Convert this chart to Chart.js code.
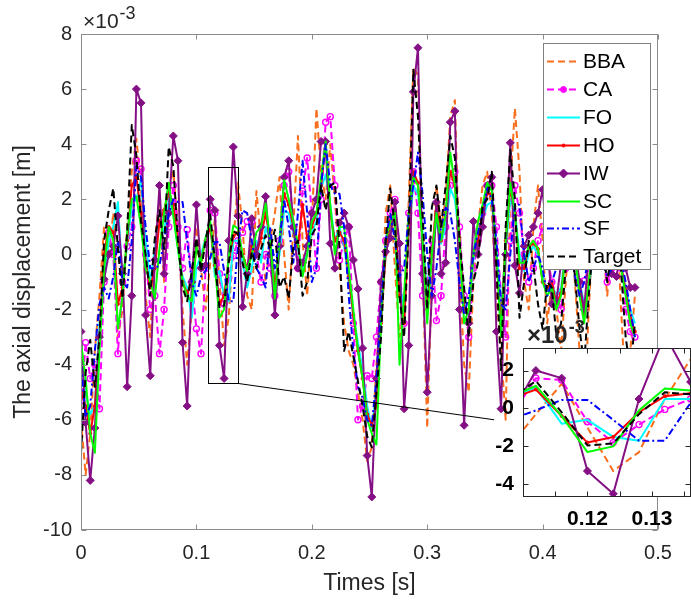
<!DOCTYPE html>
<html>
<head>
<meta charset="utf-8">
<script src="https://cdn.jsdelivr.net/npm/chart.js@4.4.1/dist/chart.umd.min.js"></script>
<style>
  html, body { margin: 0; padding: 0; background: #fff; overflow: hidden; }
  #wrap { position: relative; width: 691px; height: 601px; overflow: hidden; }
  #mainChart { position: absolute; left: 0; top: 0; }
  #zoomChart { position: absolute; left: 470px; top: 320px; }
</style>
</head>
<body>
<div id="wrap">
  <canvas id="mainChart" width="691" height="601"></canvas>
  <canvas id="zoomChart" width="226" height="220"></canvas>
</div>
<script>
// sample grid (s) and displacement values (x 1e-3 m)
const sampleStep = 0.004;
const times = Array.from({length: 121}, (_, i) => +(i * sampleStep).toFixed(3));

const bba = [
  -6.0, -8.0, -6.5, -3.5, -1.5, 1.0, 0.0, 1.5, -3.0, -2.0,
  1.0, 3.0, 4.2, 2.5, -1.5, -3.0, 0.5, 2.0, -1.0, 2.5,
  3.0, 1.0, -2.0, -4.0, -2.0, 1.0, -0.5, -2.0, -0.3, 1.3,
  -1.0, -3.3, -2.3, 0.5, 2.6, 1.0, -1.5, -2.0, 2.3, 0.5,
  -1.0, 0.5, 1.5, 2.8, 0.0, -2.0, 1.0, 4.3, 0.5, -1.5,
  1.0, 5.3, 3.0, 2.0, 4.0, 2.0, -0.5, -2.5, -3.5, -4.0,
  -5.0, -6.0, -7.5, -7.0, -4.0, -2.0, 1.5, 2.5, -0.5, -3.0,
  -2.0, 2.0, 6.8, 6.5, -0.5, -6.3, -1.0, 2.5, 1.0, 2.0,
  5.0, 5.6, -0.5, -4.0, -5.0, -1.0, 1.0, 2.5, 3.0, 1.5,
  -1.5, -3.5, -6.0, 2.5, 5.3, 3.0, -1.0, -2.0, 1.0, 2.5,
  0.5, -2.5, -1.0, -2.0, -3.5, -1.0, 1.0, -1.0, -3.5, -6.0,
  -2.0, 1.0, 2.0, 0.5, -1.5, 0.5, 1.5, -2.0, -5.0, -3.5, -1.5
];
const ca = [
  -5.5, -3.2, -4.5, -4.0, -5.6, -1.0, 0.8, 0.0, -3.6, -1.0,
  0.3, 1.0, 3.4, 3.1, 0.0, -2.0, -1.5, -3.6, -2.0, 1.0,
  2.5, 1.0, -0.5, 0.9, -1.0, -2.7, -3.6, -0.5, 1.6, 1.5,
  -0.7, -1.8, -0.85, -0.05, 0.5, 0.8, 1.2, 1.2, 0.0, -1.0,
  0.0, -0.5, -1.5, 0.5, 2.5, 3.0, 1.0, -0.5, 2.3, 3.5,
  1.5, -0.5, 2.0, 4.8, 5.0, 2.5, -0.2, 0.5, 1.0, -2.5,
  -6.0, -5.5, -4.4, -4.5, -3.0, -1.0, 0.5, 1.5, 2.0, -0.5,
  -2.5, 1.5, 3.0, 1.5, -1.5, -1.0, 0.5, -2.4, -1.5, 1.0,
  2.5, 3.0, 1.0, -1.5, -3.0, -0.5, 0.5, 1.5, 2.5, 2.5,
  1.0, -1.5, -3.0, 0.5, 2.5, 1.5, 0.0, -1.0, -0.5, 0.5,
  1.0, 0.0, -1.0, -1.5, -2.0, -0.5, 1.0, 0.0, -1.0, -0.96,
  -0.5, 0.5, 1.0, 0.0, -1.0, -0.5, 0.5, -0.5, -2.0, -2.8, -3.0
];
const fo = [
  -3.8, -5.0, -5.8, -5.5, -2.5, -1.0, 0.5, 1.0, 1.9, -1.0,
  0.3, 1.8, 2.0, 2.7, 0.5, -1.0, 0.2, 1.2, 0.8, 2.0,
  1.5, 0.2, -0.8, -1.2, -2.3, -0.5, 0.0, 0.6, 1.1, -0.8,
  -0.6, -1.5, -1.7, 0.5, 0.5, -0.3, -1.2, -0.5, 0.5, -0.3,
  1.0, 0.5, -1.0, 0.0, 1.6, 1.5, 0.8, 0.2, -0.5, 0.2,
  0.8, 1.2, 2.4, 2.9, 1.8, 0.5, 1.0, 0.3, -1.0, -2.2,
  -3.2, -4.2, -5.5, -6.3, -5.0, -2.0, 0.0, 1.0, 1.2, -1.0,
  -2.0, 0.8, 2.5, 2.2, 0.8, -1.5, 0.0, 1.2, 0.4, 1.0,
  2.4, 2.0, 0.5, -1.8, -2.2, -0.2, 0.6, 1.3, 1.8, 1.9,
  0.2, -2.0, 0.2, 2.0, 1.6, 0.0, -0.6, 0.0, 0.3, 0.0,
  -0.8, -1.3, -1.1, -1.5, -1.2, 0.2, 0.5, -0.2, -1.0, -1.8,
  -1.2, 0.0, 0.8, 0.3, -0.3, 0.2, 0.3, -0.4, -1.2, -2.0, -2.5
];
const ho = [
  -5.0, -5.5, -6.5, -5.5, -3.0, 0.0, 1.0, 0.8, -1.8, -1.2,
  0.5, 2.5, 2.8, 1.5, -0.3, -1.2, -0.5, 1.2, 1.6, 2.3,
  1.8, 0.4, -1.0, -1.4, -1.0, 0.2, -0.2, 0.5, 1.0, -0.4,
  -1.8, -1.5, -0.2, 0.65, 0.8, 0.0, -0.5, 0.3, 0.0, 0.6,
  1.5, 0.5, -1.2, 0.3, 2.2, 1.8, 1.0, 0.3, 1.8, 0.6,
  1.0, 1.5, 2.5, 4.0, 1.5, 0.5, 0.8, 0.5, -0.8, -2.2,
  -3.5, -4.5, -5.8, -6.2, -5.5, -2.5, 0.0, 1.2, 1.6, -1.5,
  -2.5, 1.0, 3.0, 2.6, 0.5, -2.0, 0.0, 1.8, 0.5, 1.5,
  3.0, 2.5, 0.6, -2.0, -2.0, 0.0, 0.5, 1.5, 2.2, 2.2,
  -0.2, -2.5, 0.5, 2.4, 1.5, -0.5, -0.5, 0.3, 0.4, 0.2,
  -1.0, -1.2, -1.0, -1.8, -1.4, 0.0, 0.7, 0.0, -1.2, -2.2,
  -1.0, 0.3, 0.9, 0.4, -0.4, 0.0, 0.4, -0.4, -1.3, -2.3, -2.8
];
const iw = [
  -2.8, -6.1, -8.2, -6.3, -3.0, -0.9, 0.0, 0.3, 1.4, -0.7,
  -4.8, -1.5, 6.0, 5.5, -2.2, -4.4, -0.2, 2.5, -0.7, 1.5,
  4.3, 3.4, -3.2, -5.5, -1.0, 1.8, -0.5, -0.4, 2.0, 1.6,
  -3.3, -4.5, 0.5, 3.9, 1.4, -1.9, -0.7, 1.3, 0.0, 1.0,
  2.1, 0.0, -2.2, 0.3, 2.8, 3.4, 1.0, -0.5, -0.3, 0.3,
  1.5, 2.0, 4.1, 4.1, 0.4, -0.5, 1.15, 1.5, 1.0, -0.2,
  -1.25, -3.4, -7.3, -8.8, -4.5, -1.0, 0.1, 0.6, 1.9, 0.4,
  -5.6, -3.3, 5.9, 7.5, -0.7, -5.0, -1.5, 1.9, -0.7, -0.3,
  4.8, 5.2, -2.0, -6.2, -2.5, 1.2, 0.0, 1.0, 2.5, 2.8,
  -2.8, -5.6, 0.0, 4.05, -0.4, -1.4, 0.3, 0.7, 1.0, 1.5,
  2.35, 0.5, -1.8, -1.7, -0.3, 0.5, 1.2, 0.3, -1.0, -2.0,
  0.0, 1.2, 1.5, 0.6, -0.2, -0.7, -0.8, 0.2, -0.5, -1.2, -1.2
];
const sc = [
  -3.2, -4.5, -6.5, -7.2, -3.5, -0.5, 1.0, 0.5, -2.7, -1.5,
  0.8, 2.0, 2.1, 1.0, -0.5, -1.0, -1.6, 0.2, 1.5, 2.6,
  1.4, 0.2, -1.0, -1.5, -1.7, 0.3, -0.3, 0.6, 1.2, -0.4,
  -2.3, -2.0, -0.1, 1.05, 0.95, 0.0, -0.6, 0.0, 0.8, 1.0,
  1.85, 0.5, -1.6, 0.5, 2.7, 2.0, 1.2, 0.4, -0.8, 0.0,
  1.2, 1.5, 2.8, 4.1, 1.8, 0.0, 1.0, 1.0, -0.5, -2.0,
  -3.5, -4.5, -6.0, -6.5, -6.9, -2.5, 0.5, 1.2, 1.5, -4.0,
  -1.5, 1.5, 2.8, 2.5, 0.5, -2.5, 0.0, 1.5, 0.5, 1.5,
  3.7, 2.5, 0.5, -2.5, -2.0, 0.0, 1.2, 1.8, 2.6, 2.3,
  0.0, -3.0, 0.5, 2.6, 1.5, -0.3, -0.3, 0.3, 0.5, 0.2,
  -1.0, -1.5, -1.2, -2.0, -1.5, 0.0, 0.8, 0.0, -1.5, -2.5,
  -1.0, 0.5, 1.0, 0.5, -0.5, 0.0, 0.5, -0.5, -1.5, -2.5, -3.0
];
const sf = [
  -4.0, -5.9, -5.5, -3.5, -1.8, -1.2, -1.6, -0.8, 0.5, -1.0,
  -1.2, 0.5, 3.2, 2.8, 1.0, -0.5, -0.5, -0.4, 0.5, 1.5,
  2.0, 1.9, 1.9, 0.5, -1.0, -1.5, -0.8, -0.6, -0.1, 0.45,
  0.45, -0.6, -1.7, -1.7, 0.3, 1.6, 1.5, 0.5, -0.5, -0.8,
  -1.2, 1.0, -0.5, 0.5, 2.0, 1.0, -0.3, 1.5, 3.4, 1.5,
  -1.0, -0.5, 2.5, 4.0, 2.5, 2.2, 2.2, 1.0, -1.5, -3.5,
  -4.8, -5.2, -6.0, -6.2, -4.5, -2.0, 0.5, 1.5, 0.5, -0.8,
  -0.5, 1.5, 2.5, 3.7, 2.2, 0.0, -1.5, -0.5, 1.0, 1.7,
  1.5, 0.5, -1.0, -2.2, -1.5, 0.0, 0.8, 1.5, 2.4, 2.0,
  0.5, -1.8, -2.0, 0.0, 1.8, 1.8, 0.0, -1.0, -0.5, 0.0,
  -0.5, -1.5, -1.0, -0.5, 0.0, 0.5, 0.3, -0.8, -1.5, -1.0,
  0.0, 0.8, 0.5, -0.3, -0.8, -0.5, 0.3, -0.2, -1.0, -2.0, -3.0
];
const target = [
  -7.2, -4.3, -3.1, -4.8, -3.0, 0.5, 1.6, 2.4, 0.2, -1.6,
  0.8, 4.7, 3.6, 1.2, 0.0, -1.5, 0.6, 1.6, 0.2, 3.9,
  3.2, 0.5, -1.2, -1.7, -0.6, 0.6, -0.6, 0.5, 1.45, -0.2,
  -1.95, -1.85, -0.3, 0.85, 0.75, -0.3, -1.0, 0.1, -0.5, 0.2,
  0.7, 0.2, 0.9, -1.2, -0.8, -1.6, 0.3, 0.5, -1.5, -1.0,
  0.7, 1.0, 2.5, 1.6, 2.5, 2.6, 0.3, -3.5, -2.8, -3.7,
  -4.6, -5.5, -6.6, -7.0, -5.0, -3.0, 0.5, 2.4, 1.0, -1.5,
  -3.0, 1.0, 6.7, 5.0, 1.5, -2.0, 1.7, 2.5, 1.0, 2.5,
  4.3, 3.5, 0.5, -1.2, -3.0, -1.0, -0.3, 1.8, 2.0, 3.0,
  -0.5, -4.2, 1.0, 3.8, 2.0, -2.3, -1.0, 0.5, -0.4, -1.8,
  -2.7, -1.0, -1.2, -3.0, -2.5, -0.5, 1.0, -0.8, -2.7, -4.0,
  -1.5, 0.5, 1.2, 0.3, -1.0, 0.2, 1.0, -0.6, -3.0, -4.2, -2.5
];

const seriesNames = ['BBA', 'CA', 'FO', 'HO', 'IW', 'SC', 'SF', 'Target'];
const seriesValues = {BBA: bba, CA: ca, FO: fo, HO: ho, IW: iw, SC: sc, SF: sf, Target: target};

const xTickValues = [0, 0.1, 0.2, 0.3, 0.4, 0.5];
const yTickValues = [-10, -8, -6, -4, -2, 0, 2, 4, 6, 8];
const zoomX = [0.11, 0.136];
const zoomY = [-4.67, 3.19];
const zoomXTickValues = [0.115, 0.12, 0.125, 0.13, 0.135];
const zoomXTickLabels = ['', '0.12', '', '0.13', ''];
const zoomYTickValues = [-4, -2, 0, 2];
const connectorEnd = [0.358, -6.0];

const lineStyles = {
  BBA:    {color: '#fa6e1e', dash: [7, 4]},
  CA:     {color: '#ff00ff', dash: [7, 4], marker: 'circle', radius: 3, fill: 'rgba(255,255,255,0)'},
  FO:     {color: '#00ffff', dash: []},
  HO:     {color: '#ff0000', dash: [], marker: 'circle', radius: 1.5, fill: '#ff0000'},
  IW:     {color: '#850f85', dash: [], marker: 'rectRot', radius: 4, fill: '#850f85'},
  SC:     {color: '#00ff00', dash: []},
  SF:     {color: '#0000ff', dash: [7, 3, 2, 3]},
  Target: {color: '#000000', dash: [7, 4]}
};

Chart.defaults.font.family = '"Liberation Sans", Arial, sans-serif';
Chart.defaults.color = '#262626';

function makeDatasets() {
  return seriesNames.map((name, i) => {
    const st = lineStyles[name];
    return {
      label: name,
      data: seriesValues[name].map((v, k) => ({x: times[k], y: v})),
      borderColor: st.color,
      borderWidth: 2,
      borderDash: st.dash,
      borderJoinStyle: 'round',
      pointStyle: st.marker || 'circle',
      pointRadius: st.marker ? st.radius : 0,
      pointBackgroundColor: st.fill || st.color,
      pointBorderColor: st.color,
      pointBorderWidth: name === 'CA' ? 1.4 : 1,
      tension: 0,
      fill: false,
      clip: 0,
      order: seriesNames.length - i
    };
  });
}

function drawBoxAndTicks(chart, xt, yt, tickLen, color) {
  const {ctx, chartArea: a, scales: {x, y}} = chart;
  const l = Math.round(a.left) + 0.5, r = Math.round(a.right) - 0.5;
  const t = Math.round(a.top) + 0.5, b = Math.round(a.bottom) - 0.5;
  ctx.save();
  ctx.strokeStyle = color;
  ctx.lineWidth = 1;
  ctx.strokeRect(l, t, r - l, b - t);
  ctx.beginPath();
  xt.forEach(v => {
    const px = Math.round(x.getPixelForValue(v)) + 0.5;
    ctx.moveTo(px, b); ctx.lineTo(px, b - tickLen);
    ctx.moveTo(px, t); ctx.lineTo(px, t + tickLen);
  });
  yt.forEach(v => {
    const py = Math.round(y.getPixelForValue(v)) + 0.5;
    ctx.moveTo(l, py); ctx.lineTo(l + tickLen, py);
    ctx.moveTo(r, py); ctx.lineTo(r - tickLen, py);
  });
  ctx.stroke();
  ctx.restore();
}

function drawExponent(ctx, x, y, size, supSize, bold) {
  ctx.save();
  ctx.fillStyle = '#262626';
  ctx.textBaseline = 'alphabetic';
  ctx.font = (bold ? 'bold ' : '') + size + 'px "Liberation Sans", Arial, sans-serif';
  ctx.fillText('\u00d710', x, y);
  const w = ctx.measureText('\u00d710').width;
  ctx.font = (bold ? 'bold ' : '') + supSize + 'px "Liberation Sans", Arial, sans-serif';
  ctx.fillText('-3', x + w + 1, y - size * 0.42);
  ctx.restore();
}

function drawMarker(ctx, st, x, y) {
  ctx.save();
  ctx.setLineDash([]);
  ctx.fillStyle = st.fill;
  ctx.strokeStyle = st.color;
  ctx.lineWidth = 1;
  ctx.beginPath();
  if (st.marker === 'rectRot') {
    const r = st.radius + 0.5;
    ctx.moveTo(x, y - r); ctx.lineTo(x + r, y); ctx.lineTo(x, y + r); ctx.lineTo(x - r, y);
    ctx.closePath();
  } else {
    ctx.arc(x, y, st.radius, 0, Math.PI * 2);
  }
  ctx.fill();
  ctx.stroke();
  ctx.restore();
}

function drawLegend(ctx) {
  const left = 543, top = 43, right = 650, bottom = 269;
  ctx.save();
  ctx.fillStyle = '#ffffff';
  ctx.fillRect(left, top, right - left, bottom - top);
  ctx.strokeStyle = '#808080';
  ctx.lineWidth = 1;
  ctx.strokeRect(left + 0.5, top + 0.5, right - left, bottom - top);
  ctx.font = '21px "Liberation Sans", Arial, sans-serif';
  ctx.textBaseline = 'middle';
  seriesNames.forEach((name, i) => {
    const st = lineStyles[name];
    const yy = Math.round(61 + i * 27.9) + 0.5;
    ctx.strokeStyle = st.color;
    ctx.lineWidth = 2;
    ctx.setLineDash(st.dash);
    ctx.beginPath();
    ctx.moveTo(547, yy);
    ctx.lineTo(580, yy);
    ctx.stroke();
    ctx.setLineDash([]);
    if (st.marker) {
      drawMarker(ctx, name === 'CA' ? {...st, fill: st.color} : st, 563.5, yy);
    }
    ctx.fillStyle = '#000000';
    ctx.fillText(name, 583, yy + 1);
  });
  ctx.restore();
}

const mainDecor = {
  id: 'mainDecor',
  afterDatasetsDraw(chart) {
    const {ctx, scales: {x, y}} = chart;
    const rx0 = Math.round(x.getPixelForValue(zoomX[0])) + 0.5;
    const rx1 = Math.round(x.getPixelForValue(zoomX[1])) + 0.5;
    const ry0 = Math.round(y.getPixelForValue(zoomY[1])) + 0.5;
    const ry1 = Math.round(y.getPixelForValue(zoomY[0])) + 0.5;
    ctx.save();
    ctx.strokeStyle = '#000000';
    ctx.lineWidth = 1;
    ctx.strokeRect(rx0, ry0, rx1 - rx0, ry1 - ry0);
    ctx.beginPath();
    ctx.moveTo(rx1, ry1);
    ctx.lineTo(x.getPixelForValue(connectorEnd[0]), y.getPixelForValue(connectorEnd[1]));
    ctx.stroke();
    ctx.restore();
    drawLegend(ctx);
  },
  afterDraw(chart) {
    drawBoxAndTicks(chart, xTickValues, yTickValues, 5, '#8c8c8c');
    drawExponent(chart.ctx, 83, 28, 21, 18, false);
  }
};

const zoomDecor = {
  id: 'zoomDecor',
  beforeDatasetsDraw(chart) {
    const {ctx, chartArea: a} = chart;
    ctx.save();
    ctx.fillStyle = '#ffffff';
    ctx.fillRect(a.left, a.top, a.right - a.left, a.bottom - a.top);
    ctx.restore();
  },
  afterDraw(chart) {
    drawBoxAndTicks(chart, zoomXTickValues, zoomYTickValues, 5, '#262626');
    drawExponent(chart.ctx, 57, 23, 24, 18, true);
  }
};

new Chart(document.getElementById('mainChart'), {
  type: 'line',
  data: {datasets: makeDatasets()},
  options: {
    responsive: false,
    animation: false,
    events: [],
    layout: {padding: {left: 0, right: 33, top: 34, bottom: 0}},
    plugins: {legend: {display: false}, tooltip: {enabled: false}},
    scales: {
      x: {
        type: 'linear', min: 0, max: 0.5,
        grid: {display: false, drawTicks: false},
        border: {display: false},
        afterBuildTicks: s => { s.ticks = xTickValues.map(v => ({value: v})); },
        afterFit: s => { s.height = 71; },
        ticks: {padding: 11, font: {size: 20}, color: '#262626', maxRotation: 0, autoSkip: false,
                callback: v => String(+v.toFixed(2))},
        title: {display: true, text: 'Times [s]', font: {size: 23}, color: '#262626', padding: {top: 0, bottom: 4}}
      },
      y: {
        type: 'linear', min: -10, max: 8,
        grid: {display: false, drawTicks: false},
        border: {display: false},
        afterBuildTicks: s => { s.ticks = yTickValues.map(v => ({value: v})); },
        afterFit: s => { s.width = 81; },
        ticks: {padding: 9, font: {size: 20}, color: '#262626', autoSkip: false,
                callback: v => String(v)},
        title: {display: true, text: 'The axial displacement [m]', font: {size: 23}, color: '#262626', padding: {top: 10, bottom: 0}}
      }
    }
  },
  plugins: [mainDecor]
});

new Chart(document.getElementById('zoomChart'), {
  type: 'line',
  data: {datasets: makeDatasets()},
  options: {
    responsive: false,
    animation: false,
    events: [],
    layout: {padding: {left: 0, right: 0, top: 28, bottom: 0}},
    plugins: {legend: {display: false}, tooltip: {enabled: false}},
    scales: {
      x: {
        type: 'linear', min: zoomX[0], max: zoomX[1],
        grid: {display: false, drawTicks: false},
        border: {display: false},
        afterBuildTicks: s => { s.ticks = zoomXTickValues.map(v => ({value: v})); },
        afterFit: s => { s.height = 43; },
        ticks: {padding: 10, font: {size: 21, weight: 'bold'}, color: '#000000', maxRotation: 0, autoSkip: false,
                callback: (v, i) => zoomXTickLabels[i]}
      },
      y: {
        type: 'linear', min: zoomY[0], max: zoomY[1],
        grid: {display: false, drawTicks: false},
        border: {display: false},
        afterBuildTicks: s => { s.ticks = zoomYTickValues.map(v => ({value: v})); },
        afterFit: s => { s.width = 53; },
        ticks: {padding: 9, font: {size: 21, weight: 'bold'}, color: '#000000', autoSkip: false,
                callback: v => String(v)}
      }
    }
  },
  plugins: [zoomDecor]
});
</script>
</body>
</html>
